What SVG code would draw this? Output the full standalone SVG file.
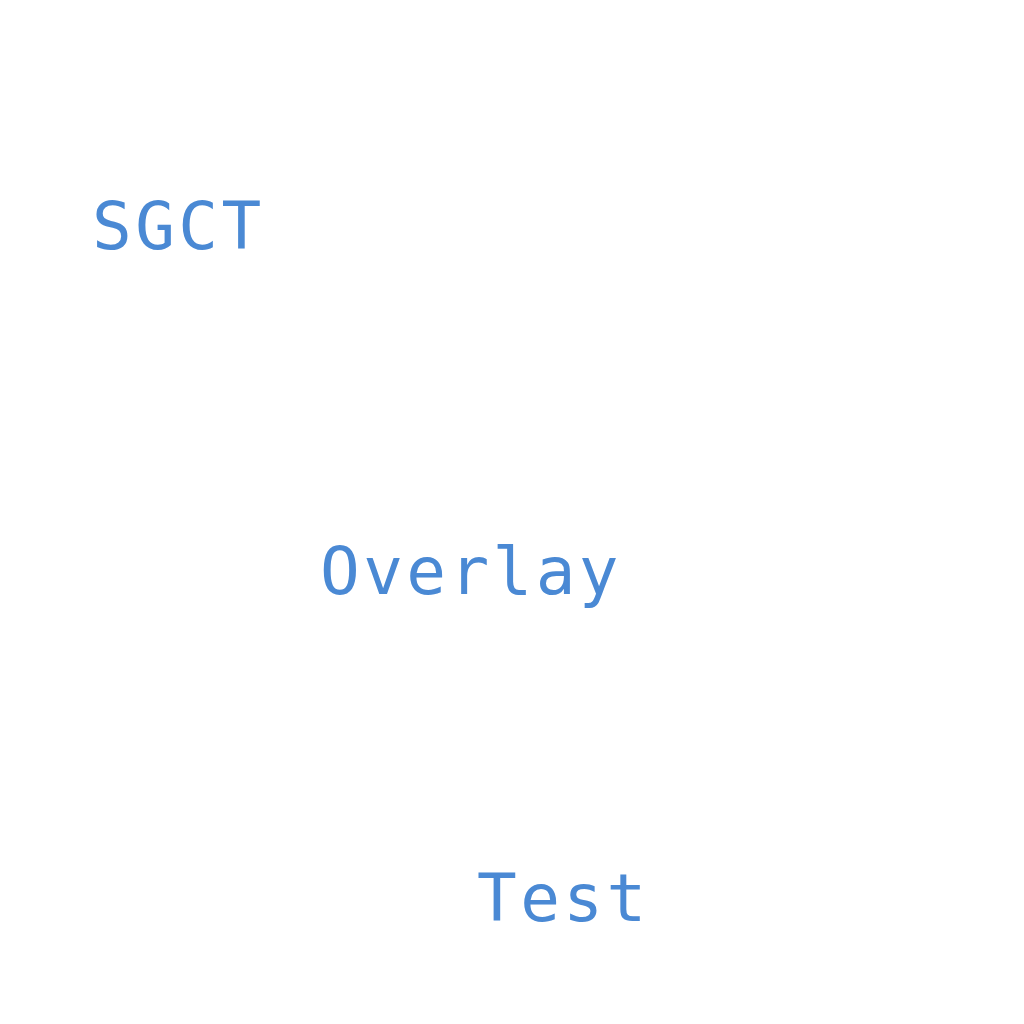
<svg xmlns="http://www.w3.org/2000/svg" width="1024" height="1024" viewBox="0 0 1024 1024">
<style>
.t{font-family:"DejaVu Sans Mono","Liberation Mono",monospace;font-size:66px;fill:#4A89D4;letter-spacing:3.4px}
</style>
<rect width="1024" height="1024" fill="#ffffff"/>
<g id="sgct"><text class="t" x="92" y="249">SGCT</text></g>
<g id="overlay"><text class="t" x="320" y="594">Overlay</text></g>
<g id="test"><text class="t" x="477" y="921">Test</text></g>
<g id="connectors"></g>
</svg>
